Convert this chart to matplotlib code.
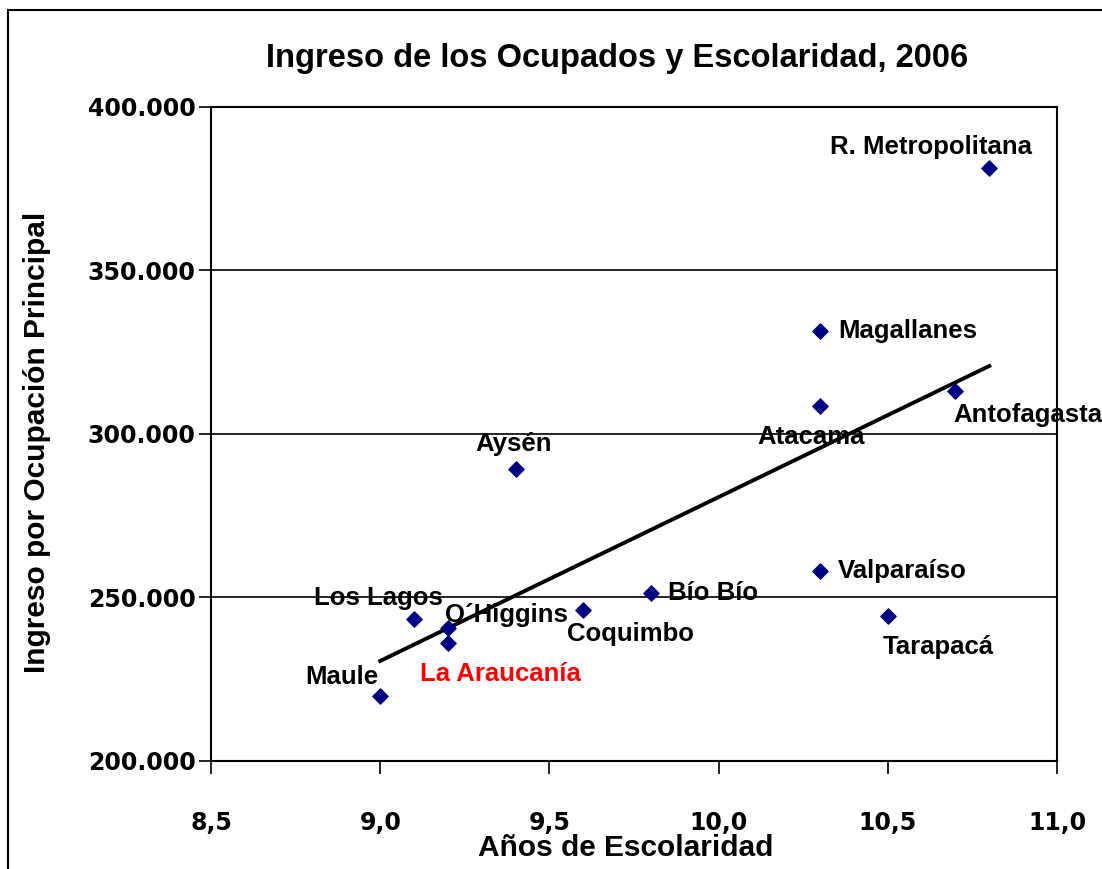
import numpy as np
import matplotlib.pyplot as plt
from matplotlib.patches import Rectangle

# Regiones: años de escolaridad vs ingreso por ocupación principal (2006)
regiones = ["Maule", "La Araucanía", "O´Higgins", "Los Lagos", "Aysén",
            "Coquimbo", "Bío Bío", "Valparaíso", "Atacama", "Magallanes",
            "Tarapacá", "Antofagasta", "R. Metropolitana"]
escolaridad = [9.0, 9.2, 9.2, 9.1, 9.4, 9.6, 9.8, 10.3, 10.3, 10.3, 10.5, 10.7, 10.8]
ingreso = [220000, 236000, 240700, 243400, 289300, 246200, 251300,
           258200, 308600, 331500, 244200, 313200, 381400]

# línea de tendencia tal como aparece en el gráfico
tendencia_x = [9.0, 10.8]
tendencia_y = [230600, 320800]

# desplazamiento de cada etiqueta (pixeles) y alineación
etiquetas = {
    "Maule": ((-2, 19), "right"),
    "La Araucanía": ((-28, -31), "left"),
    "O´Higgins": ((-3, 13), "left"),
    "Los Lagos": ((-36, 21), "center"),
    "Aysén": ((-2, 25), "center"),
    "Coquimbo": ((-16, -24), "left"),
    "Bío Bío": ((17, 0), "left"),
    "Valparaíso": ((18, 0), "left"),
    "Atacama": ((-9, -31), "center"),
    "Magallanes": ((18, 0), "left"),
    "Tarapacá": ((-5, -31), "left"),
    "Antofagasta": ((-2, -24), "left"),
    "R. Metropolitana": ((-58, 21), "center"),
}

plt.rcParams['font.family'] = ['Liberation Sans', 'DejaVu Sans']
plt.rcParams['font.weight'] = 'bold'

W, H = 1102, 869
fig = plt.figure(figsize=(W / 100, H / 100), dpi=100)
ax = fig.add_axes([211 / W, 1 - 761 / H, (1057 - 211) / W, (761 - 107) / H])

# marco del gráfico
fig.patches.append(Rectangle((8 / W, -0.1), 1.2, 1 - 10 / H + 0.1,
                             transform=fig.transFigure, fill=False,
                             edgecolor='black', linewidth=1.5))

ax.scatter(escolaridad, ingreso, marker='D', s=60, color='#000080', zorder=3)
ax.plot(tendencia_x, tendencia_y, color='black', linewidth=2.8, zorder=2)

for nombre, x, y in zip(regiones, escolaridad, ingreso):
    (dx, dy), ha = etiquetas[nombre]
    color = 'red' if nombre == "La Araucanía" else 'black'
    ax.annotate(nombre, (x, y), xytext=(dx, dy), textcoords='offset pixels',
                ha=ha, va='center', fontsize=18.5, fontweight='bold', color=color,
                zorder=4)

ax.set_xlim(8.5, 11.0)
ax.set_ylim(200000, 400000)
ax.set_xticks([8.5, 9.0, 9.5, 10.0, 10.5, 11.0])
ax.set_xticklabels(["8,5", "9,0", "9,5", "10,0", "10,5", "11,0"])
ax.set_yticks([200000, 250000, 300000, 350000, 400000])
ax.set_yticklabels(["200.000", "250.000", "300.000", "350.000", "400.000"])
ax.tick_params(axis='both', length=9, width=1.2, direction='out')
ax.tick_params(axis='x', pad=27)
ax.tick_params(axis='y', pad=2)
for lab in ax.get_xticklabels() + ax.get_yticklabels():
    lab.set_fontweight('bold')
    lab.set_fontsize(17)
    lab.set_family('DejaVu Sans')

ax.grid(axis='y', color='black', linewidth=1.2)
ax.set_axisbelow(True)
for s in ax.spines.values():
    s.set_linewidth(1.5)

fig.text(626 / W, 1 - 848 / H, "Años de Escolaridad",
         ha='center', va='center', fontsize=21.5, fontweight='bold')
fig.text(37 / W, 1 - 442 / H, "Ingreso por Ocupación Principal", rotation=90,
         ha='center', va='center', fontsize=21.5, fontweight='bold')
fig.text(617 / W, 1 - 58 / H, "Ingreso de los Ocupados y Escolaridad, 2006",
         ha='center', va='center', fontsize=23.5, fontweight='bold')

fig.savefig("out.png", dpi=100)
